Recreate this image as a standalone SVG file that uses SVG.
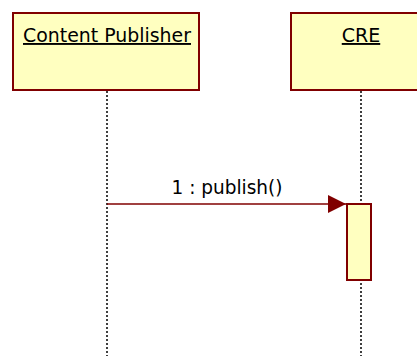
<svg xmlns="http://www.w3.org/2000/svg" width="417" height="356" viewBox="0 0 417 356">
<style>
.box{fill:#ffffc0;stroke:#800000;stroke-width:2}
.life{stroke:#000;stroke-width:1.5;stroke-dasharray:2,2;fill:none}
.t{font-family:"DejaVu Sans",Verdana,sans-serif;font-size:19px;fill:#000}
.msg{stroke:#800000;stroke-width:1.5;fill:none}
</style>
<defs>
<marker id="ah" markerUnits="userSpaceOnUse" markerWidth="20" markerHeight="20" refX="18" refY="9" orient="auto">
<path d="M0,0 L18,9 L0,18 Z" fill="#800000"/>
</marker>
</defs>
<g id="lifelines">
<line class="life" x1="107" y1="91" x2="107" y2="356"/>
<line class="life" x1="361" y1="91" x2="361" y2="356"/>
</g>
<g id="content-publisher">
<rect class="box" x="13" y="13" width="186" height="77"/>
<text class="t" x="107" y="42" text-anchor="middle" text-decoration="underline" textLength="168" lengthAdjust="spacingAndGlyphs">Content Publisher</text>
</g>
<g id="cre">
<rect class="box" x="291" y="13" width="140" height="77"/>
<text class="t" x="361" y="42" text-anchor="middle" text-decoration="underline">CRE</text>
</g>
<g id="activation">
<rect class="box" x="347" y="204" width="24" height="76"/>
</g>
<g id="connectors">
<line class="msg" x1="107" y1="204" x2="346" y2="204" marker-end="url(#ah)"/>
<text class="t" x="227" y="194" text-anchor="middle" textLength="111" lengthAdjust="spacingAndGlyphs">1 : publish()</text>
</g>
</svg>
